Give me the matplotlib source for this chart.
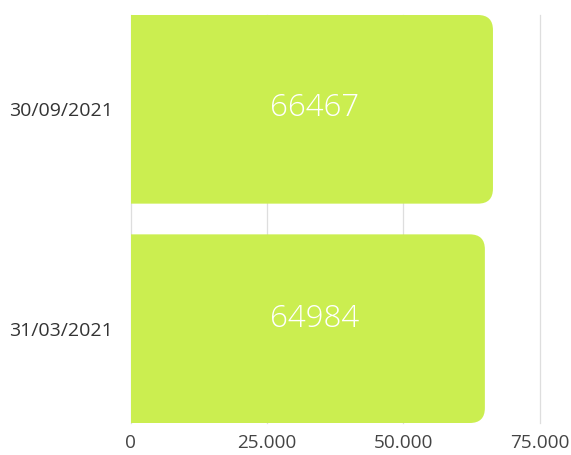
import matplotlib
matplotlib.use("Agg")
import matplotlib.pyplot as plt
from matplotlib.patches import PathPatch
from matplotlib.path import Path
from matplotlib.ticker import FuncFormatter

categories = ["31/03/2021", "30/09/2021"]
values = [64984, 66467]
xticks = [0, 25000, 50000, 75000]

BAR = "#cbee50"
W, H = 571, 455
plt.rcParams["font.family"] = ["Open Sans", "DejaVu Sans"]

fig = plt.figure(figsize=(W / 100, H / 100), dpi=100)
ax = fig.add_axes([130.5 / W, 1 - 423 / H, (539.5 - 130.5) / W, (423 - 15) / H])

h = 0.86
ax.set_xlim(0, 75000)
ax.set_ylim(-h / 2, 1 + h / 2)

# rounded right end: pixel radius -> data units
xpp = 75000 / (539.5 - 130.5)
ypp = (1 + h) / (423 - 15)
rx, ry = 15 * xpp, 15 * ypp


def rounded_bar(y, v):
    y0, y1 = y - h / 2, y + h / 2
    verts = [(0, y0), (v - rx, y0), (v, y0), (v, y0 + ry), (v, y1 - ry),
             (v, y1), (v - rx, y1), (0, y1), (0, y0)]
    codes = [Path.MOVETO, Path.LINETO, Path.CURVE3, Path.CURVE3, Path.LINETO,
             Path.CURVE3, Path.CURVE3, Path.LINETO, Path.CLOSEPOLY]
    ax.add_patch(PathPatch(Path(verts, codes), fc=BAR, ec="none", zorder=2))


# labels sit a little above the bar centre in the original (pixels)
nudge = [(3, 10), (2.5, 1.5)]
label_x = max(values) / 2
for i, v in enumerate(values):
    rounded_bar(i, v)
    ax.annotate(str(v), (label_x, i), xytext=nudge[i], textcoords="offset pixels",
                ha="center", va="center", color="white",
                fontsize=22.5, fontweight="light", zorder=3)

ax.set_yticks(range(len(categories)))
ax.set_yticklabels(categories)
ax.set_xticks(xticks)
ax.xaxis.set_major_formatter(FuncFormatter(lambda x, _: f"{int(x):,}".replace(",", ".")))
ax.tick_params(length=0, labelsize=13.7, labelcolor="#444444")
ax.tick_params(axis="y", pad=13, labelsize=14.0, labelcolor="#333333")
ax.tick_params(axis="x", pad=8)
ax.grid(axis="x", color="#dedede", lw=0.9, zorder=0)
for gl in ax.get_xgridlines():
    gl.set_clip_on(False)
ax.set_axisbelow(True)
for s in ax.spines.values():
    s.set_visible(False)

fig.savefig("out.png", dpi=100)
